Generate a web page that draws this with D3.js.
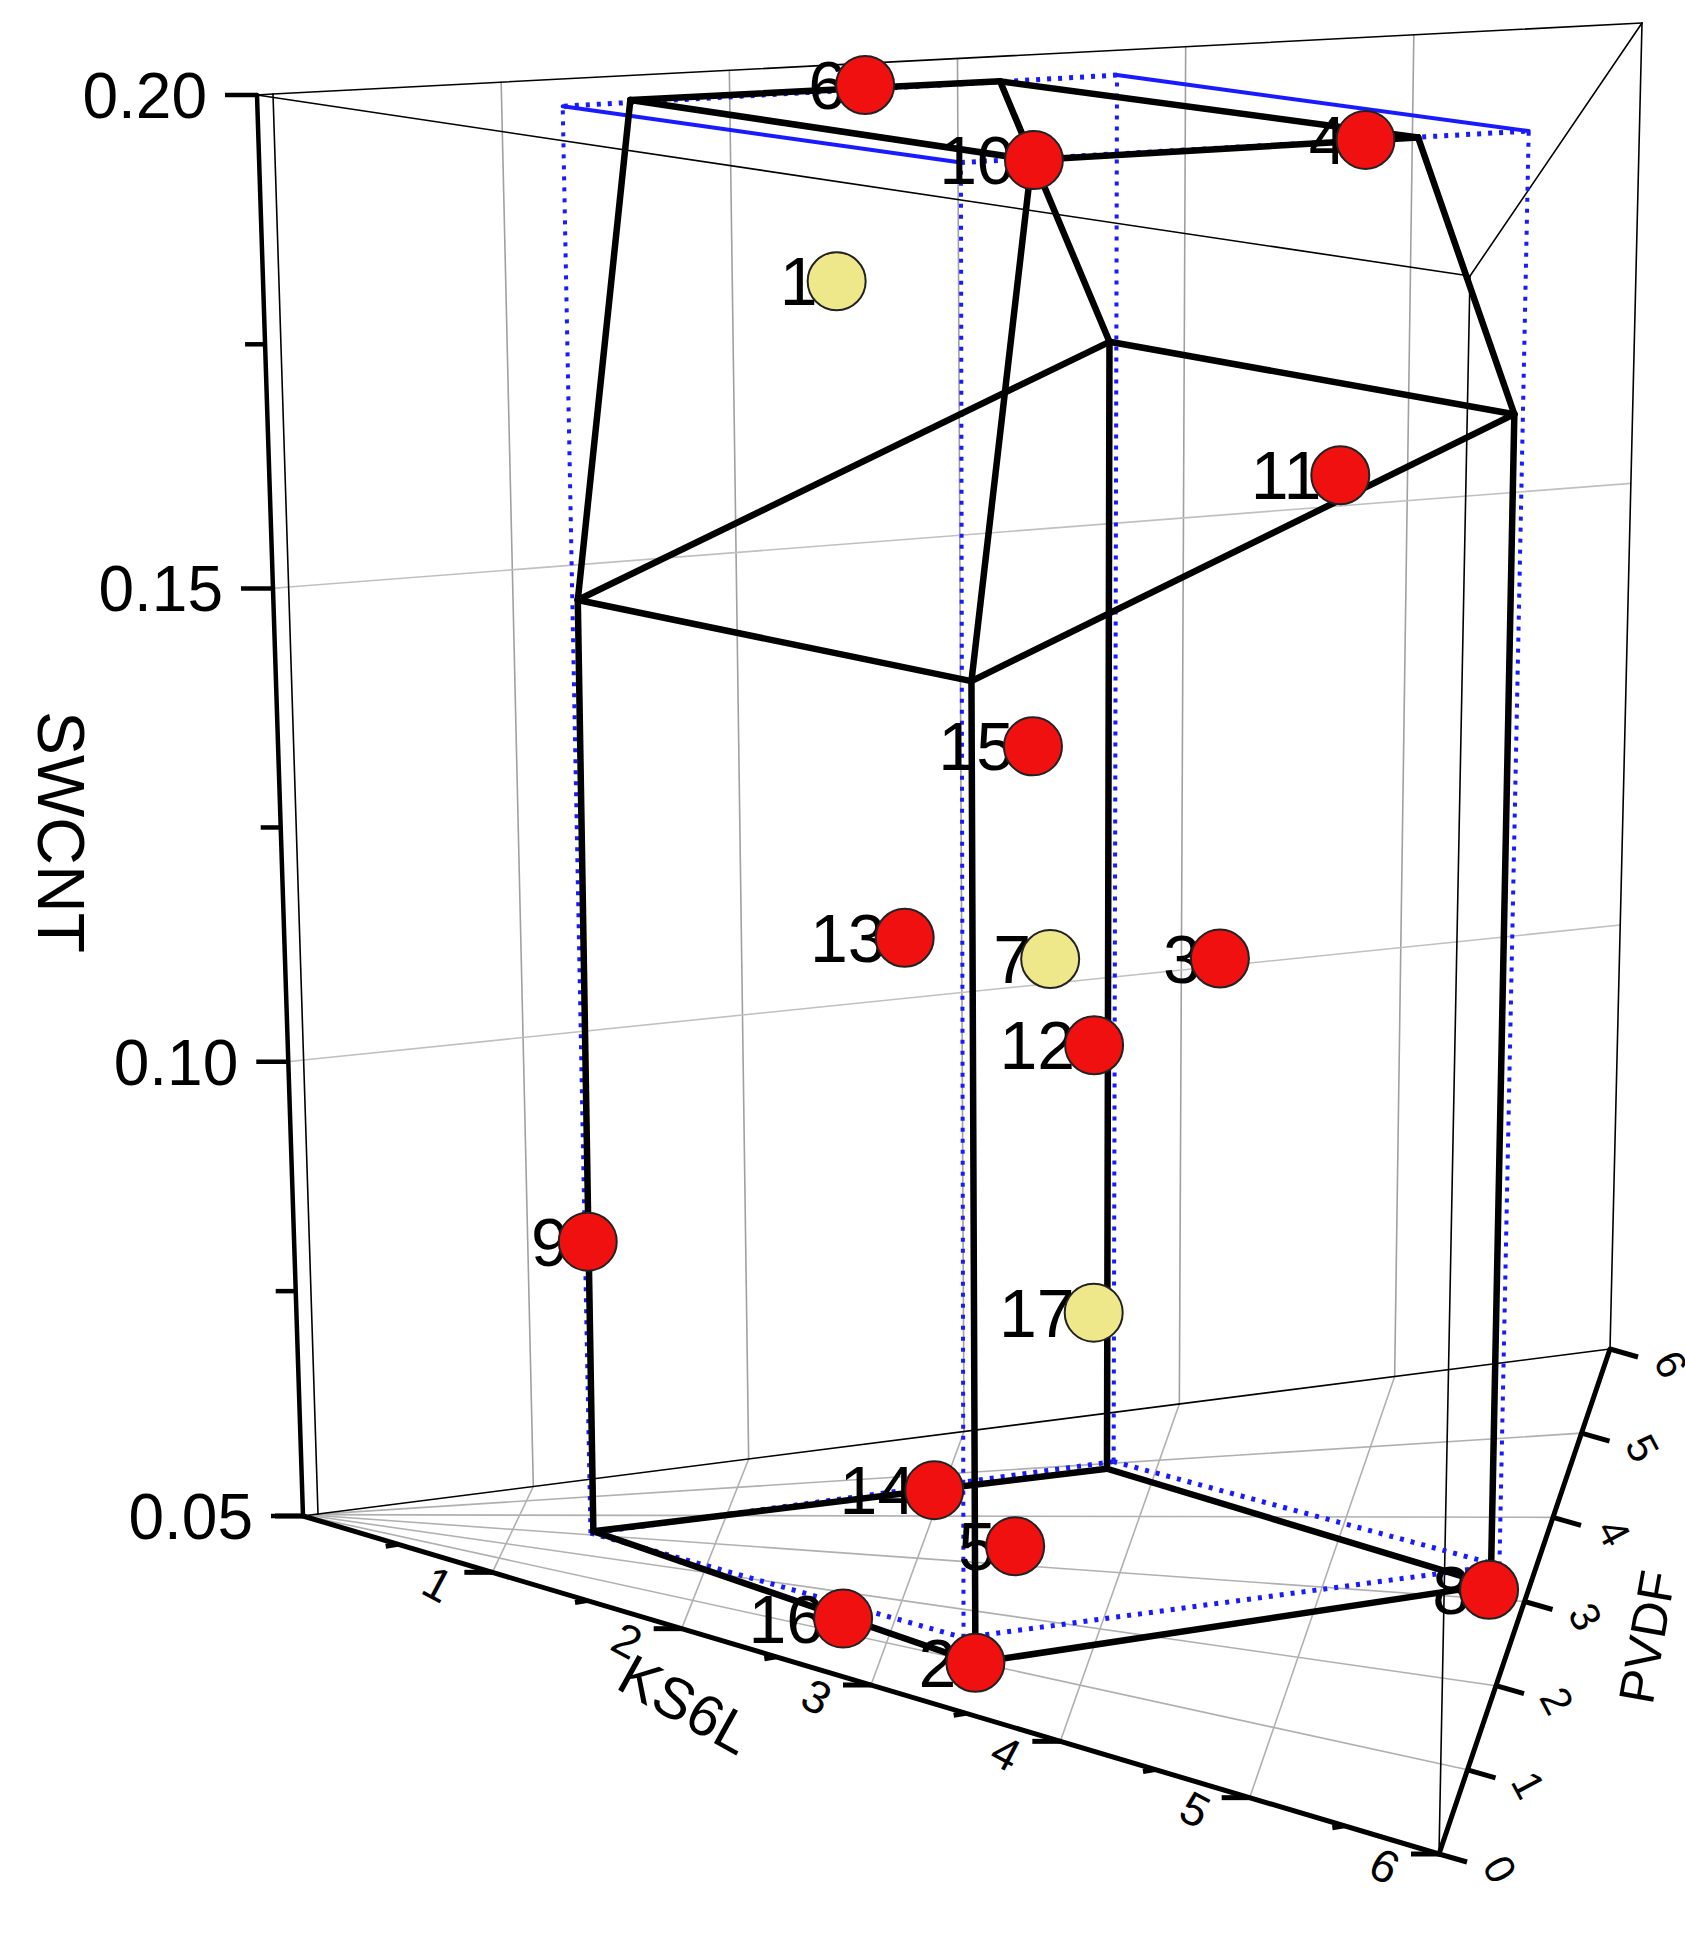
<!DOCTYPE html>
<html><head><meta charset="utf-8">
<script src="https://cdn.jsdelivr.net/npm/d3@7"></script>
<style>body{margin:0;background:#fff} text{font-family:"Liberation Sans",Arial,sans-serif}</style></head>
<body><svg id="chart" width="1685" height="1957"></svg>
<script>
// design points: KS6L, PVDF, SWCNT
const pointIds = ["1","2","3","4","5","6","7","8","9","10","11","12","13","14","15","16","17"];
const pointK = [2.53, 3.46, 4.34, 5.11, 3.45, 2.67, 3.54, 5.81, 1.39, 3.68, 4.97, 3.70, 2.91, 2.96, 3.40, 2.75, 3.65];
const pointP = [4.87, 0.99, 4.28, 3.04, 3.38, 4.80, 4.31, 3.11, 3.19, 1.77, 3.43, 4.85, 3.58, 4.62, 5.05, 1.35, 5.43];
const pointZ = [0.18, 0.05, 0.11, 0.20, 0.05, 0.20, 0.11, 0.05, 0.082, 0.20, 0.165, 0.098, 0.115, 0.05, 0.13, 0.05, 0.065];
const centerPoints = ["1", "7", "17"];

// design region (black polyhedron): base corners, mid level, top corners
const regionK = [1.39, 3.46, 5.81, 3.76];
const regionP = [3.19, 0.99, 3.17, 4.90];
const regionMidK = [1.40, 3.42, 5.81, 3.76];
const regionMidP = [3.23, 1.28, 3.17, 4.90];
const regionMidZ = [0.15, 0.15, 0.173, 0.173];
const regionTopK = [1.66, 3.67, 5.34, 3.27];
const regionTopP = [3.83, 1.77, 3.16, 4.87];

// blue bounding box corners
const boxK = [1.38, 3.36, 5.82, 3.78];
const boxP = [3.09, 1.43, 3.41, 5.03];

const kTicks = [0, 1, 2, 3, 4, 5, 6];
const pTicks = [0, 1, 2, 3, 4, 5, 6];
const zTicks = [0.05, 0.10, 0.15, 0.20];
const zMinor = [0.075, 0.125, 0.175];

// picture corners of the plot cube
const cornerBottom = {A: [303, 1516], B: [1439, 1854], C: [1610, 1349], D: [318, 1514]};
const cornerTop = {A: [257, 95], B: [1470, 276], C: [1642, 23], D: [273, 94]};

const kScale = d3.scaleLinear().domain([0, 6]).range([0, 1]);
const pScale = d3.scaleLinear().domain([0, 6]).range([0, 1]);
const zLin = d3.scaleLinear().domain([0.05, 0.2]).range([0, 1]);
const zScale = z => { const t = zLin(z), a = 0.94; return a * t / (1 + (a - 1) * t); };

function bil(c, u, v) {
  return [0, 1].map(i => (1 - u) * (1 - v) * c.A[i] + u * (1 - v) * c.B[i] + u * v * c.C[i] + (1 - u) * v * c.D[i]);
}
function proj(k, p, z) {
  const u = kScale(k), v = pScale(p), t = zScale(z);
  const b = bil(cornerBottom, u, v), a = bil(cornerTop, u, v);
  return [b[0] + (a[0] - b[0]) * t, b[1] + (a[1] - b[1]) * t];
}

const svg = d3.select("#chart");
const line = d3.line();
function seg(g, a, b, stroke, width, dash) {
  g.append("path").attr("d", line([proj(...a), proj(...b)]))
    .attr("stroke", stroke).attr("stroke-width", width).attr("fill", "none")
    .attr("stroke-dasharray", dash || null).attr("stroke-linecap", dash ? "butt" : "round");
}

// grid lines
const grid = svg.append("g");
[1, 2, 3, 4, 5].forEach(v => {
  seg(grid, [v, 0, 0.05], [v, 6, 0.05], "#b0b0b0", 1.6);
  seg(grid, [0, v, 0.05], [6, v, 0.05], "#b0b0b0", 1.6);
  seg(grid, [v, 6, 0.05], [v, 6, 0.2], "#a0a0a0", 1.6);
});
[0.10, 0.15].forEach(z => {
  seg(grid, [0, 6, z], [6, 6, z], "#c0c0c0", 1.6);
  seg(grid, [0, 0, z], [0, 6, z], "#c0c0c0", 1.6);
});

// frame
const frame = svg.append("g");
[[[0,6,0.05],[6,6,0.05]], [[0,0,0.05],[0,6,0.05]], [[0,0,0.2],[6,0,0.2]], [[6,0,0.2],[6,6,0.2]], [[6,6,0.2],[0,6,0.2]], [[0,6,0.2],[0,0,0.2]],
 [[6,0,0.05],[6,0,0.2]], [[6,6,0.05],[6,6,0.2]], [[0,6,0.05],[0,6,0.2]]].forEach(s => seg(frame, s[0], s[1], "#000", 1.6));
seg(frame, [0,0,0.05], [0,0,0.2], "#000", 4.5);
seg(frame, [0,0,0.05], [6,0,0.05], "#000", 5);
seg(frame, [6,0,0.05], [6,6,0.05], "#000", 5);

// SWCNT ticks
zTicks.concat(zMinor).forEach(z => {
  const [x, y] = proj(0, 0, z), len = zTicks.includes(z) ? 32 : 20;
  frame.append("line").attr("x1", x).attr("y1", y).attr("x2", x - len).attr("y2", y).attr("stroke", "#000").attr("stroke-width", 4.5);
});
const zFmt = d3.format(".2f");
zTicks.forEach(z => {
  const [x, y] = proj(0, 0, z);
  frame.append("text").attr("x", x - 50).attr("y", y + 23).attr("text-anchor", "end").attr("font-size", 64).text(zFmt(z));
});
// KS6L ticks
kTicks.forEach(k => {
  const [x, y] = proj(k, 0, 0.05);
  frame.append("line").attr("x1", x).attr("y1", y).attr("x2", x - 28).attr("y2", y).attr("stroke", "#000").attr("stroke-width", 5);
  if (k < 6) { const [mx, my] = proj(k + 0.5, 0, 0.05);
    frame.append("line").attr("x1", mx).attr("y1", my).attr("x2", mx - 12).attr("y2", my + 2).attr("stroke", "#000").attr("stroke-width", 5); }
  if (k > 0) frame.append("text").attr("transform", `translate(${x - 62},${y + 26}) rotate(28)`).attr("text-anchor", "middle").attr("font-size", 46).text(k);
});
// PVDF ticks
pTicks.forEach(p => {
  const [x, y] = proj(6, p, 0.05);
  frame.append("line").attr("x1", x).attr("y1", y).attr("x2", x + 28).attr("y2", y + 8).attr("stroke", "#000").attr("stroke-width", 5);
  frame.append("text").attr("transform", `translate(${x + 48},${y + 22}) rotate(62)`).attr("text-anchor", "middle").attr("font-size", 42).text(p);
});
// axis titles
svg.append("text").attr("transform", "translate(38,832) rotate(90)").attr("text-anchor", "middle").attr("font-size", 66).text("SWCNT");
svg.append("text").attr("transform", "translate(676,1722) rotate(29)").attr("text-anchor", "middle").attr("font-size", 58).text("KS6L");
svg.append("text").attr("transform", "translate(1664,1640) rotate(-80)").attr("text-anchor", "middle").attr("font-size", 50).text("PVDF");

// blue box
const blue = svg.append("g");
const bDash = "4,7";
d3.range(4).forEach(i => {
  const j = (i + 1) % 4;
  seg(blue, [boxK[i], boxP[i], 0.05], [boxK[j], boxP[j], 0.05], "#1a1aff", 5, bDash);
  seg(blue, [boxK[i], boxP[i], 0.2], [boxK[j], boxP[j], 0.2], "#1a1aff", i % 2 === 0 ? 4 : 5, i === 0 || i === 2 ? null : bDash);
  seg(blue, [boxK[i], boxP[i], 0.05], [boxK[i], boxP[i], 0.2], "#1a1aff", 4, bDash);
});

// design region
const region = svg.append("g");
const bw = 6.5;
d3.range(4).forEach(i => {
  const j = (i + 1) % 4;
  seg(region, [regionK[i], regionP[i], 0.05], [regionK[j], regionP[j], 0.05], "#000", bw);
  seg(region, [regionK[i], regionP[i], 0.05], [regionMidK[i], regionMidP[i], regionMidZ[i]], "#000", bw);
  seg(region, [regionMidK[i], regionMidP[i], regionMidZ[i]], [regionMidK[j], regionMidP[j], regionMidZ[j]], "#000", bw);
  seg(region, [regionMidK[i], regionMidP[i], regionMidZ[i]], [regionTopK[i], regionTopP[i], 0.2], "#000", bw);
  seg(region, [regionTopK[i], regionTopP[i], 0.2], [regionTopK[j], regionTopP[j], 0.2], "#000", bw);
});

// points
const pts = pointIds.map((id, i) => ({id, xy: proj(pointK[i], pointP[i], pointZ[i])}));
const r = 29;
const node = svg.append("g").selectAll("g").data(pts).enter().append("g")
  .attr("transform", d => `translate(${d.xy[0]},${d.xy[1]})`);
node.append("text").attr("x", -r + 10).attr("y", 24).attr("text-anchor", "end").attr("font-size", 68).text(d => d.id);
node.append("circle").attr("r", r)
  .attr("fill", d => centerPoints.includes(d.id) ? "#efe88a" : "#f01010")
  .attr("stroke", "#222").attr("stroke-width", 2);
</script></body></html>
